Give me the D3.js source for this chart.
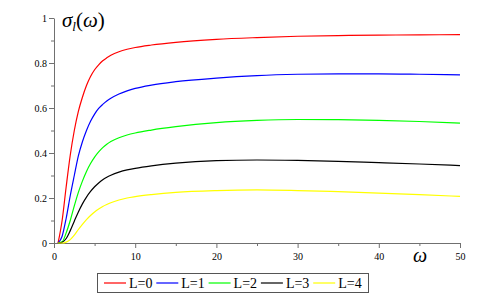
<!DOCTYPE html>
<html>
<head>
<meta charset="utf-8">
<script src="https://cdn.jsdelivr.net/npm/d3@7"></script>
<style>
  body { margin: 0; background: #fff; }
  text { font-family: "Liberation Serif", "Times New Roman", serif; }
</style>
</head>
<body>
<div id="chart"><svg></svg></div>
<script>
var width = 487,
    height = 306;

// omega sample points
var omega = [0.5, 1, 1.5, 2, 2.5, 3, 3.5, 4, 4.5, 5, 5.5, 6, 6.5, 7, 8, 9, 10, 12, 15, 20, 25, 30, 35, 40, 45, 50];

// sigma_l(omega) for each L
var sigmaL0 = [0, 0.10, 0.25, 0.39, 0.50, 0.585, 0.648, 0.70, 0.74, 0.77, 0.792, 0.81, 0.823, 0.834, 0.85, 0.861, 0.869, 0.880, 0.892, 0.905, 0.913, 0.919, 0.922, 0.924, 0.925, 0.926];
var sigmaL1 = [0, 0.03, 0.11, 0.21, 0.30, 0.387, 0.45, 0.50, 0.541, 0.573, 0.598, 0.616, 0.631, 0.643, 0.662, 0.676, 0.687, 0.702, 0.717, 0.733, 0.744, 0.750, 0.752, 0.752, 0.750, 0.747];
var sigmaL2 = [0, 0.005, 0.045, 0.10, 0.165, 0.225, 0.275, 0.318, 0.353, 0.382, 0.405, 0.424, 0.439, 0.451, 0.468, 0.48, 0.489, 0.502, 0.517, 0.535, 0.545, 0.549, 0.548, 0.545, 0.540, 0.533];
var sigmaL3 = [0, 0.003, 0.02, 0.055, 0.097, 0.138, 0.174, 0.204, 0.229, 0.25, 0.267, 0.281, 0.292, 0.301, 0.315, 0.325, 0.332, 0.343, 0.355, 0.366, 0.369, 0.367, 0.363, 0.357, 0.351, 0.344];
var sigmaL4 = [0, 0, 0.004, 0.015, 0.035, 0.06, 0.083, 0.104, 0.122, 0.138, 0.151, 0.162, 0.171, 0.179, 0.191, 0.2, 0.206, 0.215, 0.225, 0.233, 0.236, 0.233, 0.228, 0.222, 0.215, 0.207];

var seriesNames = ["L=0", "L=1", "L=2", "L=3", "L=4"];
var seriesColors = ["#ff0000", "#0000ff", "#00ff00", "#000000", "#ffff00"];
var allSeries = [sigmaL0, sigmaL1, sigmaL2, sigmaL3, sigmaL4];

var xTicks = [0, 10, 20, 30, 40, 50];
var yTicks = [0, 0.2, 0.4, 0.6, 0.8, 1];

var axisColor = "#707070";

var x = d3.scaleLinear().domain([0, 50]).range([54, 460]);
var y = d3.scaleLinear().domain([0, 1]).range([243, 18]);

var svg = d3.select("#chart svg")
  .attr("width", width)
  .attr("height", height);

// minor ticks
svg.append("g")
    .attr("transform", "translate(0,243)")
    .call(d3.axisBottom(x).tickValues([5, 15, 25, 35, 45]).tickSize(3).tickFormat(""))
    .call(g => g.select(".domain").remove())
    .call(g => g.selectAll("line").attr("stroke", axisColor));
svg.append("g")
    .attr("transform", "translate(54,0)")
    .call(d3.axisLeft(y).tickValues([0.1, 0.3, 0.5, 0.7, 0.9]).tickSize(3).tickFormat(""))
    .call(g => g.select(".domain").remove())
    .call(g => g.selectAll("line").attr("stroke", axisColor));

// major axes
var xAxis = svg.append("g")
    .attr("transform", "translate(0,243)")
    .call(d3.axisBottom(x).tickValues(xTicks).tickSize(5).tickSizeOuter(0).tickFormat(d3.format("d")));
xAxis.selectAll("text")
    .attr("font-family", "Liberation Serif, serif")
    .attr("font-size", 10)
    .attr("fill", "#000")
    .attr("dy", "0.9em");

var yAxis = svg.append("g")
    .attr("transform", "translate(54,0)")
    .call(d3.axisLeft(y).tickValues(yTicks).tickSize(5).tickSizeOuter(0).tickFormat(d => d === 0 || d === 1 ? d : d3.format(".1f")(d)));
yAxis.selectAll("text")
    .attr("font-family", "Liberation Serif, serif")
    .attr("font-size", 10)
    .attr("fill", "#000")
    .attr("x", -7);

svg.selectAll(".domain").attr("stroke", axisColor);
svg.selectAll(".tick line").attr("stroke", axisColor);

// axis labels
var yLabel = svg.append("text")
    .attr("x", 62)
    .attr("y", 27)
    .attr("font-size", 21)
    .attr("font-style", "italic")
    .attr("font-family", "DejaVu Serif, serif");
yLabel.append("tspan").text("σ");
yLabel.append("tspan").attr("font-size", 13).attr("dy", 4).text("l");
yLabel.append("tspan").attr("dy", -4).attr("font-style", "normal").text("(");
yLabel.append("tspan").text("ω");
yLabel.append("tspan").attr("font-style", "normal").text(")");

svg.append("text")
    .attr("x", 413)
    .attr("y", 262)
    .attr("font-size", 20)
    .attr("font-style", "italic")
    .attr("font-family", "DejaVu Serif, serif")
    .text("ω");

// curves
var line = d3.line()
  .x((d, i) => x(omega[i]))
  .y(d => y(d))
  .curve(d3.curveMonotoneX);

svg.append("g")
    .attr("class", "lines")
  .selectAll("path")
    .data(allSeries)
  .enter().append("path")
    .attr("d", line)
    .attr("fill", "none")
    .attr("stroke-width", 1.2)
    .attr("stroke", (d, i) => seriesColors[i]);

// legend
var legend = svg.append("g").attr("class", "legend");
legend.append("rect")
    .attr("x", 97.5)
    .attr("y", 273.5)
    .attr("width", 271)
    .attr("height", 19)
    .attr("fill", "none")
    .attr("stroke", "#555");

var item = legend.selectAll("g.item")
    .data(seriesNames)
  .enter().append("g")
    .attr("class", "item")
    .attr("transform", (d, i) => "translate(" + (104 + 52.3 * i) + ",283)");
item.append("line")
    .attr("x1", 0)
    .attr("x2", 22)
    .attr("stroke-width", 1.2)
    .attr("stroke", (d, i) => seriesColors[i]);
item.append("text")
    .attr("x", 25)
    .attr("y", 5)
    .attr("font-size", 14)
    .text(d => d);
</script>
</body>
</html>
